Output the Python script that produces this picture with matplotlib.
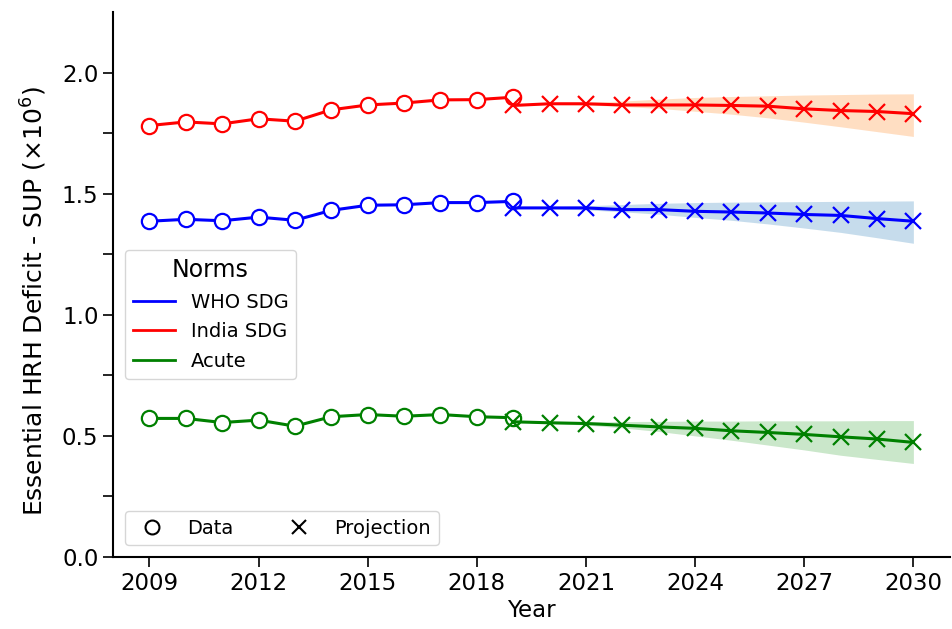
import numpy as np
import matplotlib.pyplot as plt
from matplotlib.lines import Line2D

# observed years and projection years
years_data = [2009, 2010, 2011, 2012, 2013, 2014, 2015, 2016, 2017, 2018, 2019]
years_proj = [2019, 2020, 2021, 2022, 2023, 2024, 2025, 2026, 2027, 2028, 2029, 2030]

# WHO SDG norm (x 10^6)
who_data = [1.386, 1.394, 1.388, 1.403, 1.390, 1.431, 1.452, 1.454, 1.463, 1.463, 1.468]
who_proj = [1.441, 1.441, 1.441, 1.434, 1.434, 1.427, 1.424, 1.420, 1.414, 1.410, 1.397, 1.386]
who_lo = [1.441, 1.438, 1.433, 1.425, 1.415, 1.402, 1.390, 1.375, 1.358, 1.340, 1.318, 1.295]
who_hi = [1.441, 1.445, 1.450, 1.455, 1.460, 1.463, 1.465, 1.466, 1.467, 1.468, 1.469, 1.470]

# India SDG norm
ind_data = [1.781, 1.796, 1.788, 1.809, 1.799, 1.846, 1.866, 1.874, 1.887, 1.888, 1.898]
ind_proj = [1.864, 1.871, 1.871, 1.866, 1.866, 1.866, 1.864, 1.861, 1.850, 1.843, 1.839, 1.830]
ind_lo = [1.864, 1.868, 1.866, 1.860, 1.852, 1.840, 1.828, 1.813, 1.795, 1.776, 1.756, 1.736]
ind_hi = [1.864, 1.872, 1.877, 1.882, 1.890, 1.897, 1.901, 1.904, 1.907, 1.909, 1.911, 1.912]

# Acute norm
acu_data = [0.572, 0.572, 0.555, 0.565, 0.540, 0.579, 0.588, 0.581, 0.588, 0.579, 0.575]
acu_proj = [0.558, 0.554, 0.551, 0.544, 0.537, 0.531, 0.521, 0.514, 0.506, 0.496, 0.487, 0.473]
acu_lo = [0.558, 0.551, 0.545, 0.533, 0.518, 0.500, 0.482, 0.462, 0.442, 0.420, 0.403, 0.386]
acu_hi = [0.558, 0.557, 0.558, 0.559, 0.560, 0.561, 0.561, 0.562, 0.562, 0.562, 0.563, 0.563]

norm_names = ["WHO SDG", "India SDG", "Acute"]
line_colors = ["b", "r", "g"]
band_colors = ["C0", "C1", "C2"]

fig = plt.figure(figsize=(9.53, 6.29), dpi=100)
ax = fig.add_axes([0.1186, 0.1145, 0.878, 0.8665])

series = [
    (who_data, who_proj, who_lo, who_hi),
    (ind_data, ind_proj, ind_lo, ind_hi),
    (acu_data, acu_proj, acu_lo, acu_hi),
]
for (d, p, lo, hi), lc, bc in zip(series, line_colors, band_colors):
    ax.fill_between(years_proj, lo, hi, color=bc, alpha=0.25, linewidth=0)
    ax.plot(years_data, d, color=lc, lw=2.2, marker="o", ms=11,
            mfc="white", mec=lc, mew=1.6)
    ax.plot(years_proj, p, color=lc, lw=2.2, marker="x", ms=11, mew=1.6)

ax.set_xlim(2008, 2031)
ax.set_ylim(0, 2.25)
ax.set_xticks(np.arange(2009, 2031, 3))
ax.set_yticks([0.0, 0.5, 1.0, 1.5, 2.0])
ax.set_yticks(np.arange(0.25, 2.25, 0.5), minor=True)
ax.tick_params(axis="both", which="major", labelsize=16.5, length=7, width=1.2)
ax.tick_params(axis="y", which="minor", length=7, width=1.2)
for s in ["top", "right"]:
    ax.spines[s].set_visible(False)
ax.spines["left"].set_linewidth(1.5)
ax.spines["bottom"].set_linewidth(1.5)

ax.set_xlabel("Year", fontsize=16.5, labelpad=3)
ax.set_ylabel(r"Essential HRH Deficit - SUP ($\times10^6$)", fontsize=18)
ax.yaxis.set_label_coords(-0.076, 0.47)

norm_handles = [Line2D([], [], color=c, lw=2) for c in line_colors]
leg1 = ax.legend(norm_handles, norm_names, title="Norms", fontsize=14,
                 title_fontsize=17, loc="upper left",
                 bbox_to_anchor=(0.014, 0.563), borderaxespad=0,
                 handlelength=2.2, labelspacing=0.55)
ax.add_artist(leg1)

marker_handles = [
    Line2D([], [], ls="none", marker="o", ms=10, mfc="white", mec="k", mew=1.5),
    Line2D([], [], ls="none", marker="x", ms=10, color="k", mew=1.5),
]
ax.legend(marker_handles, ["Data", "Projection"], ncol=2, fontsize=14,
          loc="lower left", columnspacing=2.4, borderaxespad=0.6)

fig.savefig("out.png", dpi=100)
